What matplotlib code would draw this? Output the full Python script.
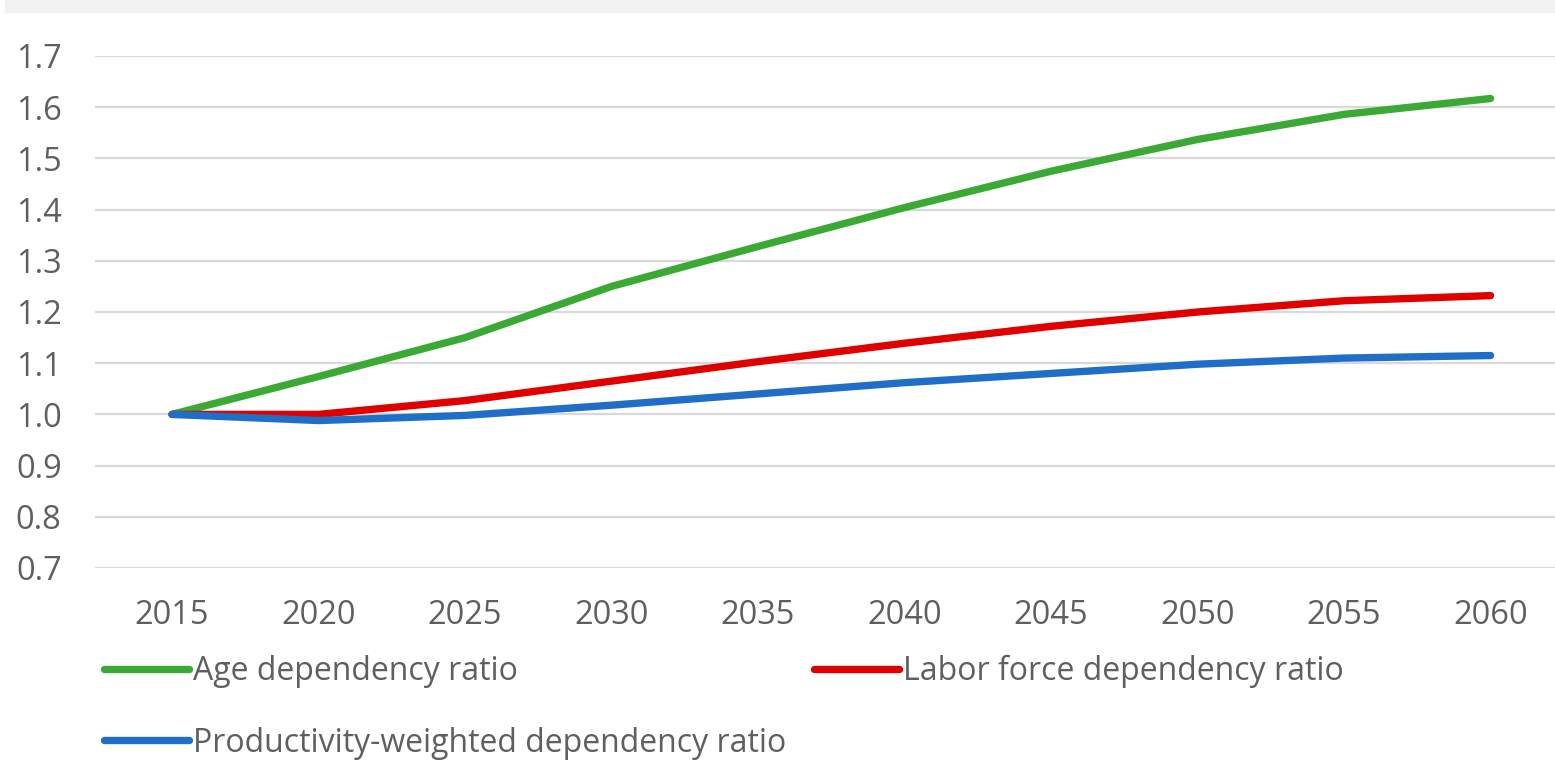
"""Dependency ratio projections, 2015-2060."""

import matplotlib
matplotlib.use("Agg")
import matplotlib.pyplot as plt
from matplotlib.patches import Rectangle

years = [2015, 2020, 2025, 2030, 2035, 2040, 2045, 2050, 2055, 2060]
age_ratio = [1.000, 1.074, 1.150, 1.250, 1.328, 1.404, 1.475, 1.537, 1.586, 1.617]
labor_ratio = [1.000, 1.000, 1.027, 1.065, 1.103, 1.139, 1.172, 1.200, 1.222, 1.232]
prod_ratio = [1.000, 0.988, 0.998, 1.018, 1.040, 1.062, 1.080, 1.098, 1.110, 1.115]
y_ticks = [0.7, 0.8, 0.9, 1.0, 1.1, 1.2, 1.3, 1.4, 1.5, 1.6, 1.7]

series = [
    ("Age dependency ratio", age_ratio, "#3aaa35"),
    ("Labor force dependency ratio", labor_ratio, "#e00000"),
    ("Productivity-weighted dependency ratio", prod_ratio, "#1f6fc8"),
]

plt.rcParams["font.family"] = ["Open Sans", "DejaVu Sans"]
text_color = "#5f5f5f"

fig = plt.figure(figsize=(15.55, 7.82), dpi=100)
fig.patches.append(Rectangle((5 / 1555, 1 - 12 / 782), 1, 12 / 782,
                             transform=fig.transFigure, color="#f2f2f2", zorder=0))
ax = fig.add_axes([95 / 1555, 1 - 568 / 782, 1 - 95 / 1555, (568 - 56) / 782])

handles = {}
for name, values, color in series:
    (line,) = ax.plot(years, values, color=color, lw=5.3, solid_capstyle="round",
                      solid_joinstyle="round", label=name, zorder=3)
    handles[name] = line

ax.set_xlim(2012.37, 2062.2)
ax.set_ylim(0.7, 1.7)
ax.set_xticks(years)
ax.set_yticks(y_ticks)
ax.set_yticklabels([f"{t:.1f}" for t in y_ticks])
ax.grid(axis="y", color="#d9d9d9", lw=1.6)
ax.set_axisbelow(True)
for side in ["top", "right", "left", "bottom"]:
    ax.spines[side].set_visible(False)
ax.tick_params(length=0, labelsize=23.5, labelcolor=text_color)
ax.tick_params(axis="x", pad=22)
ax.tick_params(axis="y", pad=24)

# legend fills columns first, so order entries to read row by row
order = ["Age dependency ratio", "Productivity-weighted dependency ratio",
         "Labor force dependency ratio"]
leg = fig.legend(handles=[handles[n] for n in order], loc="upper left",
                 bbox_to_anchor=(104 / 1555, 1 - 655 / 782),
                 ncol=2, frameon=False, fontsize=23, handlelength=2.65, handletextpad=0.15,
                 columnspacing=0.85, labelspacing=1.2, borderaxespad=0, borderpad=0)
for text in leg.get_texts():
    text.set_color(text_color)

fig.savefig("out.png", dpi=100)
